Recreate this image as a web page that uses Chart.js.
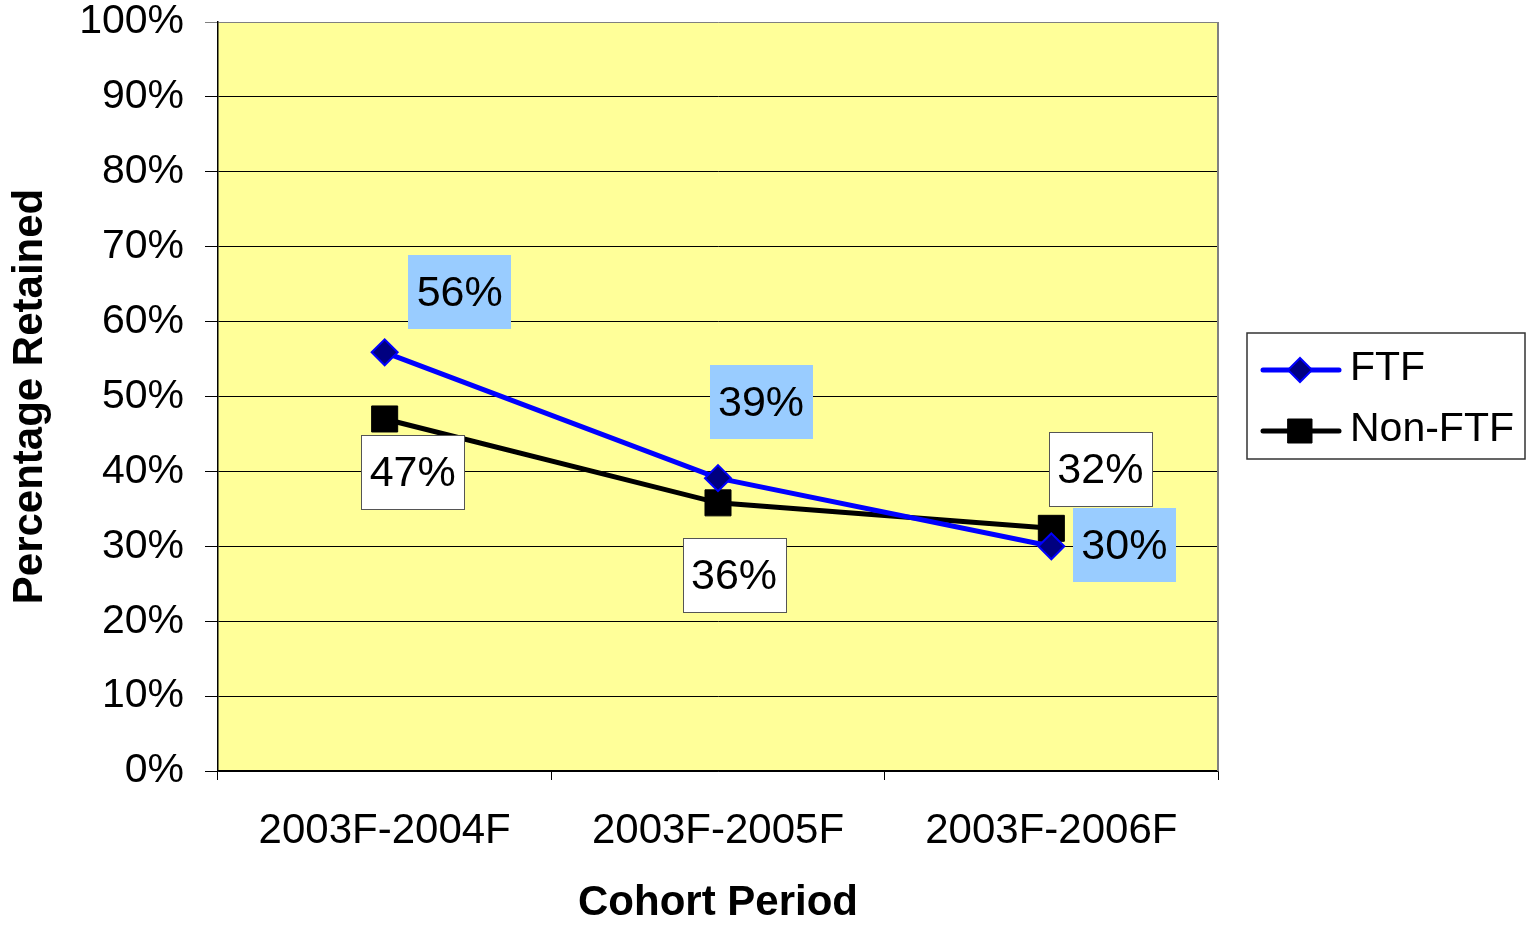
<!DOCTYPE html>
<html>
<head>
<meta charset="utf-8">
<script src="https://cdn.jsdelivr.net/npm/chart.js@4.4.1/dist/chart.umd.min.js"></script>
<style>
  html, body { margin: 0; padding: 0; background: #fff; }
  canvas { display: block; }
</style>
</head>
<body>
<canvas id="chartRetencao" width="1527" height="927"></canvas>
<script>
// dados
const categorias = ['2003F-2004F', '2003F-2005F', '2003F-2006F'];
const valoresFTF = [55.9, 39.1, 30.0];
const valoresNonFTF = [47.0, 35.8, 32.4];
const nomesSeries = ['FTF', 'Non-FTF'];

const FONTE = 'Arial, "Liberation Sans", sans-serif';

// fundo amarelo + borda cinza da área de plotagem
const fundoPlot = {
    id: 'fundoPlot',
    beforeDraw(chart) {
        const { ctx, chartArea: a } = chart;
        ctx.save();
        ctx.fillStyle = '#FFFF99';
        ctx.fillRect(a.left, a.top, a.right - a.left, a.bottom - a.top);
        ctx.restore();
    },
    beforeDatasetsDraw(chart) {
        const { ctx, chartArea: a } = chart;
        ctx.save();
        ctx.strokeStyle = '#808080';
        ctx.lineWidth = 2;
        ctx.beginPath();
        ctx.moveTo(a.right, a.top);
        ctx.lineTo(a.right, a.bottom);
        ctx.stroke();
        ctx.restore();
    }
};

// rótulos de dados com caixa (offsets em px relativos ao ponto)
const rotulos = {
    id: 'rotulos',
    afterDatasetsDraw(chart) {
        const ctx = chart.ctx;
        const estilos = [
            { fundo: '#99CCFF', borda: null, offsets: [[75, -60], [43, -76], [73, -1]] },
            { fundo: '#FFFFFF', borda: '#555', offsets: [[28, 53], [16, 72], [49, -59]] }
        ];
        const w = 103, h = 74;
        chart.data.datasets.forEach((ds, i) => {
            const meta = chart.getDatasetMeta(i);
            const st = estilos[i];
            meta.data.forEach((pt, j) => {
                const cx = pt.x + st.offsets[j][0];
                const cy = pt.y + st.offsets[j][1];
                const x = Math.round(cx - w / 2), y = Math.round(cy - h / 2);
                ctx.save();
                ctx.fillStyle = st.fundo;
                ctx.fillRect(x, y, w, h);
                if (st.borda) {
                    ctx.strokeStyle = st.borda;
                    ctx.lineWidth = 1;
                    ctx.strokeRect(x + 0.5, y + 0.5, w, h);
                }
                ctx.fillStyle = '#000';
                ctx.font = '43px ' + FONTE;
                ctx.textAlign = 'center';
                ctx.textBaseline = 'middle';
                ctx.fillText(Math.round(ds.data[j]) + '%', cx, cy + 2);
                ctx.restore();
            });
        });
    }
};

// legenda no estilo Excel
const legendaBox = {
    id: 'legendaBox',
    afterDraw(chart) {
        const ctx = chart.ctx;
        const bx = 1247, by = 333, bw = 278, bh = 126;
        ctx.save();
        ctx.fillStyle = '#fff';
        ctx.fillRect(bx, by, bw, bh);
        ctx.strokeStyle = '#333';
        ctx.lineWidth = 1.5;
        ctx.strokeRect(bx, by, bw, bh);
        const linhas = [370, 431];
        chart.data.datasets.forEach((ds, i) => {
            const y = linhas[i];
            ctx.strokeStyle = ds.borderColor;
            ctx.lineWidth = 5;
            ctx.lineCap = 'round';
            ctx.beginPath();
            ctx.moveTo(1263, y);
            ctx.lineTo(1339, y);
            ctx.stroke();
            ctx.fillStyle = ds.pointBackgroundColor;
            ctx.strokeStyle = ds.pointBorderColor;
            ctx.lineWidth = ds.pointBorderWidth;
            ctx.beginPath();
            if (i === 0) {
                ctx.moveTo(1288, y); ctx.lineTo(1300, y - 12); ctx.lineTo(1312, y); ctx.lineTo(1300, y + 12);
            } else {
                ctx.rect(1288, y - 12, 24, 24);
            }
            ctx.closePath();
            ctx.fill();
            ctx.stroke();
            ctx.fillStyle = '#000';
            ctx.font = '41px ' + FONTE;
            ctx.textAlign = 'left';
            ctx.textBaseline = 'middle';
            ctx.fillText(ds.label, 1350, y - 1);
        });
        ctx.restore();
    }
};

new Chart(document.getElementById('chartRetencao').getContext('2d'), {
    type: 'line',
    data: {
        labels: categorias,
        datasets: [
            {
                label: nomesSeries[0],
                data: valoresFTF,
                borderColor: '#0000FF',
                borderWidth: 5,
                pointStyle: 'rectRot',
                pointRadius: 13,
                pointBackgroundColor: '#000080',
                pointBorderColor: '#0000FF',
                pointBorderWidth: 2,
                tension: 0
            },
            {
                label: nomesSeries[1],
                data: valoresNonFTF,
                borderColor: '#000000',
                borderWidth: 5,
                pointStyle: 'rect',
                pointRadius: 18.4,
                pointBackgroundColor: '#000000',
                pointBorderColor: '#000000',
                pointBorderWidth: 1,
                tension: 0
            }
        ]
    },
    options: {
        responsive: false,
        animation: false,
        layout: { padding: { top: 22, right: 309, left: 0, bottom: 0 } },
        plugins: {
            legend: { display: false },
            tooltip: { enabled: false }
        },
        scales: {
            x: {
                offset: true,
                grid: { offset: true, drawOnChartArea: false, tickLength: 9, color: '#000', tickColor: '#000' },
                border: { color: '#000', width: 1.5 },
                ticks: { color: '#000', padding: 26, font: { family: FONTE, size: 42 } },
                title: {
                    display: true, text: 'Cohort Period', color: '#000',
                    font: { family: FONTE, size: 42, weight: 'bold', lineHeight: 1 },
                    padding: { top: 0, bottom: 3 }
                },
                afterFit: s => { s.height = 156; s.paddingLeft = 0; s.paddingRight = 0; }
            },
            y: {
                min: 0, max: 100,
                grid: {
                    tickLength: 13,
                    color: c => (c.tick && c.tick.value === 100 ? '#808080' : '#000'),
                    lineWidth: 1
                },
                border: { color: '#000', width: 1.5 },
                ticks: {
                    stepSize: 10, color: '#000', padding: 21,
                    font: { family: FONTE, size: 41 },
                    callback: v => v + '%'
                },
                title: {
                    display: true, text: 'Percentage Retained', color: '#000',
                    font: { family: FONTE, size: 42, weight: 'bold', lineHeight: 1 },
                    padding: { top: 9, bottom: 0 }
                },
                afterFit: s => { s.width = 218; s.paddingTop = 0; s.paddingBottom = 0; }
            }
        }
    },
    plugins: [fundoPlot, rotulos, legendaBox]
});
</script>
</body>
</html>
